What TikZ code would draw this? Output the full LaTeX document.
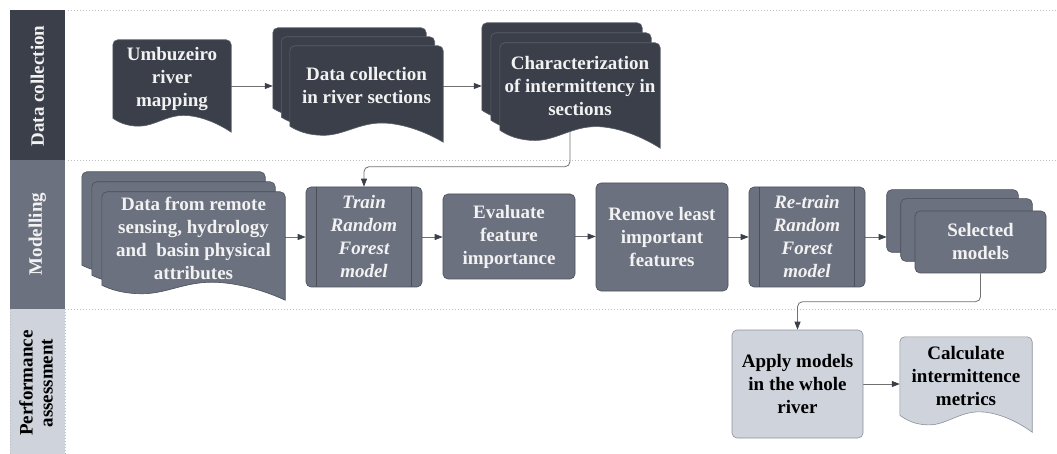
\documentclass[tikz,border=0pt]{standalone}
\usepackage{fontspec}
\setmainfont{Liberation Serif}
\usetikzlibrary{positioning, arrows.meta, calc}
\definecolor{darkbox}{HTML}{3A3F4A}
\definecolor{midbox}{HTML}{6C717F}
\definecolor{lightbox}{HTML}{CED3DC}
\definecolor{darkline}{HTML}{5A5F6A}
\definecolor{midline}{HTML}{4B4F59}
\definecolor{lightline}{HTML}{8C9099}
\definecolor{wire}{HTML}{707070}
\definecolor{tipcol}{HTML}{3A3F4A}
\definecolor{lanedot}{HTML}{BDBDBD}
\definecolor{paper}{HTML}{F2F2F2}
\pgfdeclarelayer{back}
\pgfdeclarelayer{mid}
\pgfsetlayers{back,mid,main}

% document page with a wavy bottom: options, node, wave depth, offset
\newcommand{\docshape}[4]{%
  \path[#1] let \p1=($(#2.north west)+(#4)$), \p2=($(#2.south east)+(#4)$), \n1={\x2-\x1} in
    (\x1,\y2) -- (\x1,\y1-5pt) arc[start angle=180,end angle=90,radius=5pt]
    -- (\x2-5pt,\y1) arc[start angle=90,end angle=0,radius=5pt] -- (\x2,\y2-#3)
    .. controls (\x1+0.85*\n1,\y2-0.15*#3) and (\x1+0.7*\n1,\y2+0.2*#3) .. (\x1+0.6*\n1,\y2+0.2*#3)
    .. controls (\x1+0.45*\n1,\y2+0.2*#3) and (\x1+0.35*\n1,\y2-0.57*#3) .. (\x1+0.22*\n1,\y2-0.57*#3)
    .. controls (\x1+0.12*\n1,\y2-0.57*#3) and (\x1+0.05*\n1,\y2-0.3*#3) .. (\x1,\y2) -- cycle;}

\begin{document}
\begin{tikzpicture}[x=1pt, y=-1pt,
  txt/.style={font=\fontsize{19}{23}\selectfont\bfseries, align=center, inner sep=0pt},
  lane/.style={draw=lanedot, dash pattern=on 1pt off 2pt, line width=0.8pt},
  box/.style={txt, rectangle, rounded corners=5pt, fill=midbox, draw=midline, line width=0.6pt, text=paper},
  light/.style={fill=lightbox, draw=lightline, text=black},
  doc/.style={txt, rectangle, text=paper},
  arr/.style={draw=wire, line width=0.8pt, -{Triangle[length=8pt,width=6pt,color=tipcol]}}]

\useasboundingbox (0,0) rectangle (1057,454);

\node[txt, rotate=90, text=paper] at (37.5,86) (lab1) {Data collection};
\node[txt, rotate=90, text=paper] at (37.5,234) (lab2) {Modelling};
\node[txt, rotate=90, font=\fontsize{19}{20}\selectfont\bfseries] at (36,383) (lab3) {Performance\\assessment};

\node[doc, minimum width=118pt, minimum height=78pt] at (172,79) (map) {Umbuzeiro\\river\\mapping};
\node[doc, minimum width=153pt, minimum height=80pt] at (366.5,86) (coll) {Data collection\\in river sections};
\node[doc, minimum width=160pt, minimum height=87pt] at (580,86.5) (char) {Characterization\\of intermittency in\\sections};

\node[doc, minimum width=183pt, minimum height=93pt] at (193.5,238.5) (data) {Data from remote\\sensing, hydrology\\and~ basin physical\\attributes};
\node[box, minimum width=116pt, minimum height=100pt, font=\fontsize{19}{23}\selectfont\bfseries\itshape] at (364,237) (train) {Train\\Random\\Forest\\model};
\node[box, minimum width=132pt, minimum height=85pt] at (509,236.5) (eval) {Evaluate\\feature\\importance};
\node[box, minimum width=132pt, minimum height=108pt] at (662,237) (remove) {Remove least\\important\\features};
\node[box, minimum width=116pt, minimum height=100pt, font=\fontsize{19}{23}\selectfont\bfseries\itshape] at (807,237) (retrain) {Re-train\\Random\\Forest\\model};
\node[box, minimum width=131pt, minimum height=62pt] at (980.5,242) (sel) {Selected\\models};

\node[box, light, minimum width=131pt, minimum height=108pt] at (797.5,384) (apply) {Apply models\\in the whole\\river};
\node[doc, text=black, minimum width=132pt, minimum height=78pt] at (966,376) (calc) {Calculate\\intermittence\\metrics};

\draw[midline, line width=0.6pt] ([xshift=11pt]train.north west) -- ([xshift=11pt]train.south west);
\draw[midline, line width=0.6pt] ([xshift=-11pt]train.north east) -- ([xshift=-11pt]train.south east);
\draw[midline, line width=0.6pt] ([xshift=11pt]retrain.north west) -- ([xshift=11pt]retrain.south west);
\draw[midline, line width=0.6pt] ([xshift=-11pt]retrain.north east) -- ([xshift=-11pt]retrain.south east);

\begin{pgfonlayer}{mid}
\docshape{fill=darkbox, draw=darkline, line width=0.6pt}{map}{14pt}{0,0}
\docshape{fill=darkbox, draw=darkline, line width=0.6pt}{coll}{16pt}{-17,-18}
\docshape{fill=darkbox, draw=darkline, line width=0.6pt}{coll}{16pt}{-8.5,-9}
\docshape{fill=darkbox, draw=darkline, line width=0.6pt}{coll}{16pt}{0,0}
\docshape{fill=darkbox, draw=darkline, line width=0.6pt}{char}{18pt}{-18,-20}
\docshape{fill=darkbox, draw=darkline, line width=0.6pt}{char}{18pt}{-9,-10}
\docshape{fill=darkbox, draw=darkline, line width=0.6pt}{char}{18pt}{0,0}
\docshape{fill=midbox, draw=midline, line width=0.6pt}{data}{15pt}{-20,-20}
\docshape{fill=midbox, draw=midline, line width=0.6pt}{data}{15pt}{-10,-10}
\docshape{fill=midbox, draw=midline, line width=0.6pt}{data}{15pt}{0,0}
\docshape{fill=lightbox, draw=lightline, line width=0.6pt}{calc}{17pt}{0,0}
\path[fill=midbox, draw=midline, line width=0.6pt, rounded corners=5pt] ($(sel.north west)+(-28,-21)$) rectangle ($(sel.south east)+(-28,-21)$);
\path[fill=midbox, draw=midline, line width=0.6pt, rounded corners=5pt] ($(sel.north west)+(-14,-12)$) rectangle ($(sel.south east)+(-14,-12)$);
\end{pgfonlayer}

\begin{pgfonlayer}{back}
\path[fill=darkbox] (10,10) rectangle (65,160);
\path[fill=midbox] (10,160) rectangle (65,309);
\path[fill=lightbox] (10,309) rectangle (65,454);
\draw[lane] (10,309) -- (10,454);
\draw[lane] (65,309) -- (65,454);
\draw[lane] (68,10) -- (1057,10);
\draw[lane] (68,160) -- (1057,160);
\draw[lane] (68,309) -- (1057,309);

\draw[arr] (map.east |- coll.west) -- ([xshift=-17pt]coll.west);
\draw[arr] (coll.east) -- ($(char.west |- coll.east)+(-18,0)$);
\draw[arr, rounded corners=5pt] ([xshift=-10pt]char.south) |- ([yshift=20pt]train.north) -- (train.north);
\draw[arr] (data.east |- train.west) -- (train.west);
\draw[arr] (train.east) -- (eval.west |- train.east);
\draw[arr] (eval.east) -- (remove.west |- eval.east);
\draw[arr] (remove.east) -- (retrain.west |- remove.east);
\draw[arr] (retrain.east) -- ($(sel.west |- retrain.east)+(-28,0)$);
\draw[arr, rounded corners=5pt] (sel.south) |- ([yshift=28pt]apply.north) -- (apply.north);
\draw[arr] (apply.east) -- (calc.west |- apply.east);
\end{pgfonlayer}
\end{tikzpicture}
\end{document}
